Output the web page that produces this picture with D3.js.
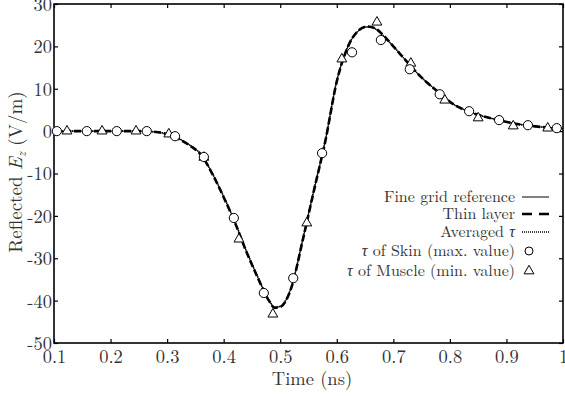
<!DOCTYPE html>
<html>
<head>
<meta charset="utf-8">
<script src="https://cdn.jsdelivr.net/npm/d3@7"></script>
<style>
  body { margin: 0; background: #fff; }
</style>
</head>
<body>
<svg id="chart" width="565" height="396"></svg>
<script>
// time axis (ns) for the three curves
const time = [0.10,0.15,0.20,0.25,0.28,0.30,0.32,0.34,0.36,0.38,0.40,0.42,0.44,0.46,0.48,0.49,0.50,0.52,0.54,0.56,0.58,0.60,0.62,0.64,0.655,0.67,0.68,0.70,0.72,0.74,0.76,0.78,0.80,0.84,0.88,0.92,0.96,1.0];
const fineGrid = [0,0,0,0,-0.2,-0.7,-1.7,-3.3,-5.5,-10,-15.5,-21.5,-28.3,-34.4,-39.9,-41.6,-41.4,-36.7,-25.5,-13.7,-2.1,11.8,20,23.8,24.6,24,22.8,20,17,14,11.4,9.2,6.9,4.3,2.8,1.65,1.0,0.6];
const thinLayer = [0,0,0,0,-0.2,-0.7,-1.8,-3.4,-5.6,-10.1,-15.6,-21.6,-28.4,-34.5,-40.0,-41.7,-41.5,-36.8,-25.6,-13.8,-2.2,11.7,20,23.9,24.7,24.1,22.9,20,17,14,11.4,9.2,6.9,4.3,2.8,1.65,1.0,0.6];
const averaged = [0,0,0,0,-0.2,-0.7,-1.7,-3.3,-5.5,-10,-15.4,-21.4,-28.2,-34.3,-39.8,-41.5,-41.3,-36.6,-25.4,-13.6,-2.0,11.9,20.1,23.9,24.6,24,22.8,20,17,14,11.4,9.2,6.9,4.3,2.8,1.65,1.0,0.6];

// sampled markers
const skinT = [0.105,0.158,0.211,0.264,0.314,0.365,0.418,0.471,0.523,0.574,0.627,0.678,0.729,0.782,0.834,0.887,0.938,0.989];
const skinE = [0,0,0,0,-1.2,-6.1,-20.5,-38.2,-34.7,-5.2,18.6,21.5,14.6,8.7,4.7,2.6,1.4,0.7];
const muscleT = [0.123,0.185,0.245,0.303,0.365,0.427,0.487,0.547,0.609,0.671,0.731,0.791,0.850,0.912,0.973];
const muscleE = [0,0,0,-0.7,-6.2,-25.5,-43.2,-21.7,17.0,25.7,16.0,7.3,3.1,1.2,0.7];

const xTicks = [0.1,0.2,0.3,0.4,0.5,0.6,0.7,0.8,0.9,1];
const yTicks = [-50,-40,-30,-20,-10,0,10,20,30];

// legend entries: [before tau, tau?, after tau]
const legendLabels = [["Fine grid reference", false, ""], ["Thin layer", false, ""], ["Averaged ", true, ""],
  ["", true, " of Skin (max. value)"], ["", true, " of Muscle (min. value)"]];

const FONT = '"Latin Modern Roman", "Liberation Serif", serif';
const INK = "#333";

const svg = d3.select("#chart");
const x0 = 54, x1 = 563, y0 = 4, y1 = 343;
const x = d3.scaleLinear().domain([0.1, 1]).range([x0, x1]);
const y = d3.scaleLinear().domain([-50, 30]).range([y1, y0]);

// ticks (inward, mirrored)
const axB = svg.append("g").attr("transform", `translate(0,${y1})`)
  .call(d3.axisBottom(x).tickValues(xTicks).tickSize(-4).tickPadding(7).tickFormat(d => d === 1 ? "1" : d3.format(".1f")(d)));
const axT = svg.append("g").attr("transform", `translate(0,${y0})`)
  .call(d3.axisTop(x).tickValues(xTicks).tickSize(-4).tickFormat(""));
const axL = svg.append("g").attr("transform", `translate(${x0},0)`)
  .call(d3.axisLeft(y).tickValues(yTicks).tickSize(-4).tickPadding(2).tickFormat(d => String(d)));
const axR = svg.append("g").attr("transform", `translate(${x1},0)`)
  .call(d3.axisRight(y).tickValues(yTicks).tickSize(-4).tickFormat(""));
[axB, axT, axL, axR].forEach(g => {
  g.select(".domain").remove();
  g.selectAll("line").attr("stroke", "#000").attr("stroke-width", 1.2);
  g.selectAll("text").style("font-family", FONT).style("font-size", "18.5px").style("fill", INK);
});
axL.selectAll("text").attr("dy", "0.35em");

svg.append("rect").attr("x", x0).attr("y", y0).attr("width", x1 - x0).attr("height", y1 - y0)
  .attr("fill", "none").attr("stroke", "#000").attr("stroke-width", 1.6);

// axis labels
svg.append("text").attr("x", 312).attr("y", 385).attr("text-anchor", "middle")
  .style("font-family", FONT).style("font-size", "18.5px").style("fill", INK).text("Time (ns)");
const yl = svg.append("text").attr("transform", "translate(22,172) rotate(-90)")
  .attr("text-anchor", "middle").style("font-family", FONT).style("font-size", "19px").style("fill", INK);
yl.append("tspan").text("Reflected ");
yl.append("tspan").style("font-style", "italic").text("E");
yl.append("tspan").style("font-style", "italic").style("font-size", "13px").attr("dy", 4).text("z");
yl.append("tspan").attr("dy", -4).text(" (V/m)");

// curves
const line = vals => d3.line().x((d, i) => x(time[i])).y(d => y(d)).curve(d3.curveMonotoneX)(vals);
svg.append("path").attr("d", line(thinLayer)).attr("fill", "none").attr("stroke", "#000")
  .attr("stroke-width", 2.6).attr("stroke-dasharray", "7,3");
svg.append("path").attr("d", line(fineGrid)).attr("fill", "none").attr("stroke", "#000").attr("stroke-width", 1);
svg.append("path").attr("d", line(averaged)).attr("fill", "none").attr("stroke", "#000")
  .attr("stroke-width", 1.6).attr("stroke-dasharray", "1,1");

// markers
const tri = d3.symbol().type(d3.symbolTriangle).size(42);
svg.append("g").selectAll("path").data(muscleT).join("path")
  .attr("d", tri).attr("transform", (d, i) => `translate(${x(d)},${y(muscleE[i])})`)
  .attr("fill", "#fff").attr("stroke", "#000").attr("stroke-width", 1);
svg.append("g").selectAll("circle").data(skinT).join("circle")
  .attr("cx", d => x(d)).attr("cy", (d, i) => y(skinE[i])).attr("r", 4.6)
  .attr("fill", "#fff").attr("stroke", "#000").attr("stroke-width", 1);

// legend
const lg = svg.append("g");
const rowsY = [197, 214, 232, 251, 271];
legendLabels.forEach((lab, i) => {
  const t = lg.append("text").attr("x", 515).attr("y", rowsY[i]).attr("dy", "0.32em")
    .attr("text-anchor", "end").style("font-family", FONT).style("font-size", "16px").style("fill", INK);
  if (lab[0]) t.append("tspan").text(lab[0]);
  if (lab[1]) t.append("tspan").style("font-style", "italic").text("\u03c4");
  if (lab[2]) t.append("tspan").text(lab[2]);
});
lg.append("line").attr("x1", 522).attr("x2", 549).attr("y1", rowsY[0]).attr("y2", rowsY[0])
  .attr("stroke", "#000").attr("stroke-width", 1);
lg.append("line").attr("x1", 522).attr("x2", 549).attr("y1", rowsY[1]).attr("y2", rowsY[1])
  .attr("stroke", "#000").attr("stroke-width", 2.6).attr("stroke-dasharray", "10,7");
lg.append("line").attr("x1", 522).attr("x2", 549).attr("y1", rowsY[2]).attr("y2", rowsY[2])
  .attr("stroke", "#000").attr("stroke-width", 1.4).attr("stroke-dasharray", "1,1");
lg.append("circle").attr("cx", 529).attr("cy", rowsY[3]).attr("r", 4)
  .attr("fill", "#fff").attr("stroke", "#000").attr("stroke-width", 1);
lg.append("path").attr("d", tri).attr("transform", `translate(529,${rowsY[4]})`)
  .attr("fill", "#fff").attr("stroke", "#000").attr("stroke-width", 1);
</script>
</body>
</html>
